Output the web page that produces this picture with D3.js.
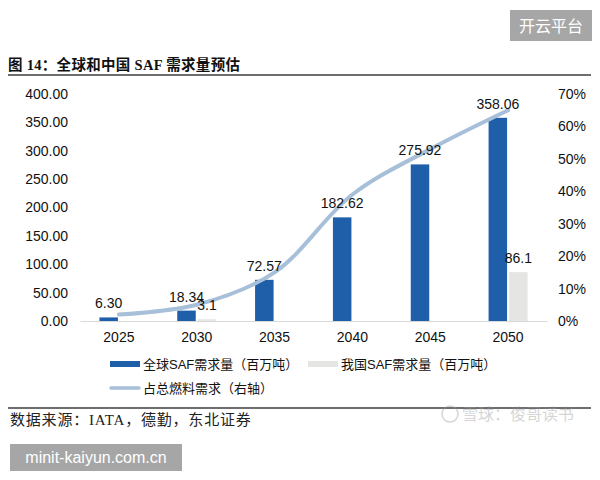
<!DOCTYPE html>
<html>
<head>
<meta charset="utf-8">
<script src="https://cdn.jsdelivr.net/npm/d3@7"></script>
<style>
  body { margin: 0; background: #fff; }
</style>
</head>
<body>
<div id="root"></div>
<script>
// -------- data --------
const years = ['2025', '2030', '2035', '2040', '2045', '2050']
const globalSaf = [6.30, 18.34, 72.57, 182.62, 275.92, 358.06]
const chinaSaf = [null, 3.1, null, null, null, 86.1]
const chinaLabels = [null, '3.1', null, null, null, '86.1']
const fuelShare = [0.02, 0.05, 0.15, 0.39, 0.53, 0.65]
const leftTicks = [0, 50, 100, 150, 200, 250, 300, 350, 400]
const rightTicks = [0, 0.1, 0.2, 0.3, 0.4, 0.5, 0.6, 0.7]

const legendItems = [
  { label: '全球SAF需求量（百万吨）', type: 'bar', color: '#1f5ea8' },
  { label: '我国SAF需求量（百万吨）', type: 'bar', color: '#e5e5e3' },
  { label: '占总燃料需求（右轴）', type: 'line', color: '#a7bfd8' }
]

const numFont = '"Liberation Sans", Arial, sans-serif'
const cjkFont = '"Liberation Sans", "Noto Sans CJK SC", sans-serif'
const serifFont = '"Liberation Serif", "Noto Sans CJK SC", serif'

const svg = d3.select('#root').append('svg')
  .attr('width', 600)
  .attr('height', 480)
  .style('display', 'block')

// -------- scales --------
const x = d3.scaleBand().domain(years).range([80, 547])
const y0 = d3.scaleLinear().domain([0, 400]).range([321, 94])
const y1 = d3.scaleLinear().domain([0, 0.7]).range([321, 94])
const barW = 18.5
const cx = d => x(d) + x.bandwidth() / 2

// -------- header / footer --------
svg.append('text')
  .attr('x', 8).attr('y', 70)
  .attr('font-family', serifFont)
  .attr('font-weight', 'bold')
  .attr('font-size', 14.5)
  .attr('letter-spacing', 0.3)
  .attr('fill', '#111')
  .text('图 14：全球和中国 SAF 需求量预估')

svg.append('line')
  .attr('x1', 8).attr('x2', 591)
  .attr('y1', 75).attr('y2', 75)
  .attr('stroke', '#6e6e6e').attr('stroke-width', 2)

svg.append('line')
  .attr('x1', 8).attr('x2', 591)
  .attr('y1', 408).attr('y2', 408)
  .attr('stroke', '#6e6e6e').attr('stroke-width', 2)

svg.append('text')
  .attr('x', 10).attr('y', 425)
  .attr('font-family', serifFont)
  .attr('font-size', 15)
  .attr('letter-spacing', 0.8)
  .attr('fill', '#222')
  .text('数据来源：IATA，德勤，东北证券')

// -------- axes --------
const leftAxis = d3.axisLeft(y0).tickValues(leftTicks).tickSize(0).tickPadding(12)
  .tickFormat(d3.format('.2f'))
svg.append('g')
  .attr('transform', 'translate(80,0)')
  .call(leftAxis)
  .call(g => g.select('.domain').remove())
  .call(g => g.selectAll('text')
    .attr('font-family', numFont).attr('font-size', 14).attr('fill', '#111'))

const rightAxis = d3.axisRight(y1).tickValues(rightTicks).tickSize(0).tickPadding(11)
  .tickFormat(d3.format('.0%'))
svg.append('g')
  .attr('transform', 'translate(547,0)')
  .call(rightAxis)
  .call(g => g.select('.domain').remove())
  .call(g => g.selectAll('text')
    .attr('font-family', '"Liberation Sans Narrow", ' + numFont)
    .attr('font-size', 14).attr('fill', '#111'))

const bottomAxis = d3.axisBottom(x).tickSize(0).tickPadding(11)
svg.append('g')
  .attr('transform', 'translate(0,321)')
  .call(bottomAxis)
  .call(g => g.select('.domain').attr('stroke', '#d9d9d9'))
  .call(g => g.selectAll('text')
    .attr('font-family', numFont).attr('font-size', 14).attr('fill', '#111'))

// -------- bars --------
svg.append('g').selectAll('rect')
  .data(years)
  .join('rect')
  .attr('x', d => cx(d) - 1 - barW)
  .attr('width', barW)
  .attr('y', (d, i) => y0(globalSaf[i]))
  .attr('height', (d, i) => y0(0) - y0(globalSaf[i]))
  .attr('fill', legendItems[0].color)

svg.append('g').selectAll('rect')
  .data(years.filter((d, i) => chinaSaf[i] != null))
  .join('rect')
  .attr('x', d => cx(d) + 1)
  .attr('width', barW)
  .attr('y', d => y0(chinaSaf[years.indexOf(d)]))
  .attr('height', d => y0(0) - y0(chinaSaf[years.indexOf(d)]))
  .attr('fill', legendItems[1].color)

// -------- line --------
const shareLine = d3.line()
  .x((d, i) => cx(years[i]))
  .y(d => y1(d))
  .curve(d3.curveCatmullRom.alpha(0.5))

svg.append('path')
  .datum(fuelShare)
  .attr('d', shareLine)
  .attr('fill', 'none')
  .attr('stroke', legendItems[2].color)
  .attr('stroke-width', 4)
  .attr('stroke-linecap', 'round')

// -------- value labels --------
svg.append('g').selectAll('text')
  .data(years)
  .join('text')
  .attr('x', d => cx(d) - 1 - barW / 2)
  .attr('y', (d, i) => y0(globalSaf[i]) - 9)
  .attr('text-anchor', 'middle')
  .attr('font-family', numFont).attr('font-size', 14).attr('fill', '#111')
  .text((d, i) => globalSaf[i].toFixed(2))

// china labels sit a little lower/right, as in the source (3.1 tucks under 18.34)
svg.append('g').selectAll('text')
  .data(years.filter((d, i) => chinaSaf[i] != null))
  .join('text')
  .attr('x', d => cx(d) + 1 + barW / 2)
  .attr('y', d => y0(chinaSaf[years.indexOf(d)]) - 9)
  .attr('text-anchor', 'middle')
  .attr('font-family', numFont).attr('font-size', 14).attr('fill', '#111')
  .text(d => chinaLabels[years.indexOf(d)])

// -------- legend --------
const legendPos = [[110, 364], [308, 364], [110, 388]]
const legend = svg.append('g').selectAll('g')
  .data(legendItems)
  .join('g')
  .attr('transform', (d, i) => `translate(${legendPos[i][0]},${legendPos[i][1]})`)

legend.filter(d => d.type === 'bar').append('rect')
  .attr('x', 0).attr('y', -3).attr('width', 30).attr('height', 6)
  .attr('fill', d => d.color)

legend.filter(d => d.type === 'line').append('line')
  .attr('x1', 1).attr('x2', 29).attr('y1', 0).attr('y2', 0)
  .attr('stroke', d => d.color).attr('stroke-width', 3.5)
  .attr('stroke-linecap', 'round')

legend.append('text')
  .attr('x', 33).attr('y', 5)
  .attr('font-family', cjkFont).attr('font-size', 13).attr('fill', '#111')
  .text(d => d.label)

// -------- watermarks --------
svg.append('rect')
  .attr('x', 510).attr('y', 10).attr('width', 82).attr('height', 31)
  .attr('fill', '#a6a6a6')
svg.append('text')
  .attr('x', 551).attr('y', 32)
  .attr('text-anchor', 'middle')
  .attr('font-family', '"Noto Sans CJK SC", sans-serif').attr('font-size', 16)
  .attr('fill', '#fff')
  .text('开云平台')

svg.append('rect')
  .attr('x', 10).attr('y', 444).attr('width', 172).attr('height', 27)
  .attr('fill', '#a6a6a6')
svg.append('text')
  .attr('x', 96).attr('y', 463)
  .attr('text-anchor', 'middle')
  .attr('font-family', numFont).attr('font-size', 16)
  .attr('fill', '#fff')
  .text('minit-kaiyun.com.cn')

const xq = svg.append('g').attr('opacity', 0.4)
xq.append('circle')
  .attr('cx', 450).attr('cy', 414).attr('r', 8)
  .attr('fill', 'none').attr('stroke', '#999').attr('stroke-width', 1.5)
xq.append('text')
  .attr('x', 462).attr('y', 420)
  .attr('font-family', '"Noto Sans CJK SC", sans-serif').attr('font-size', 16)
  .attr('fill', '#999')
  .text('雪球：俊哥读书')
</script>
</body>
</html>
